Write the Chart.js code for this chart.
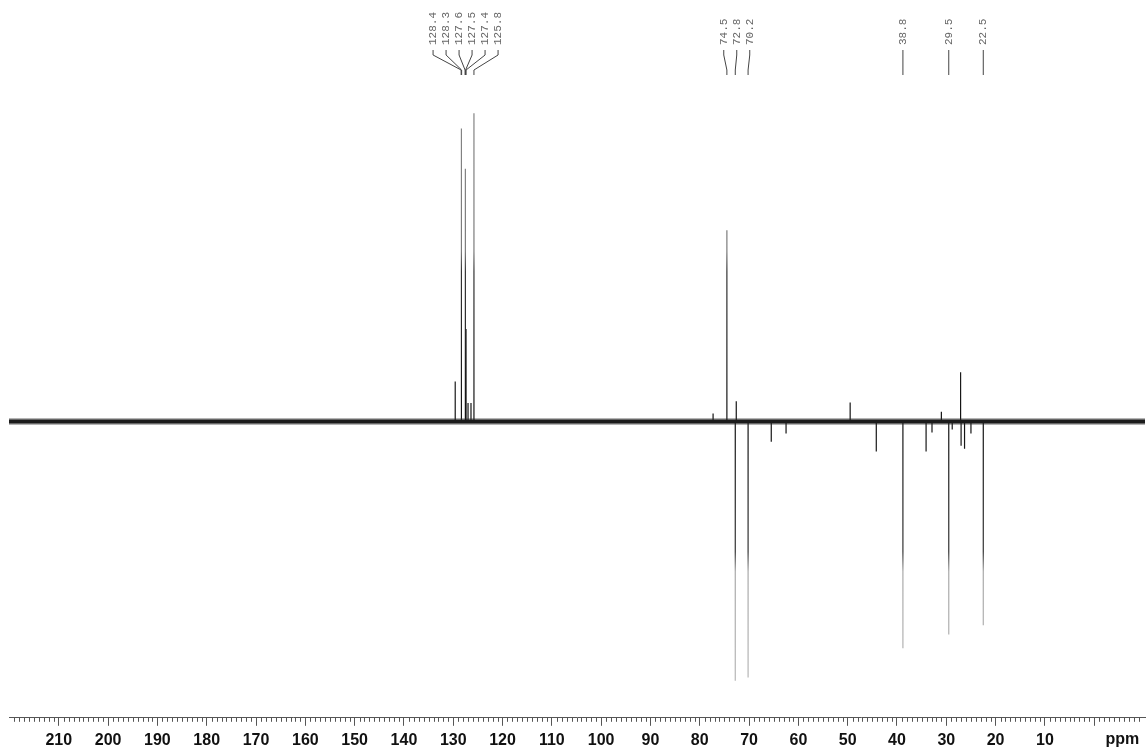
<!DOCTYPE html>
<html>
<head>
<meta charset="utf-8">
<title>DEPT-135</title>
<script src="https://cdn.jsdelivr.net/npm/chart.js@4.4.1/dist/chart.umd.min.js"></script>
<style>
  body { margin: 0; background: #fff; }
  #wrap { width: 1148px; height: 753px; position: relative; }
</style>
</head>
<body>
<div id="wrap"><canvas id="spectrum"></canvas></div>
<script>
// peak positions (ppm) and heights (positive = CH/CH3, negative = CH2)
const peakPpm    = [129.6, 128.4, 128.3, 127.6, 127.5, 127.4, 127.0, 126.4, 125.8,
                    77.3, 74.5, 72.8, 72.6, 70.2, 65.5, 62.5, 49.5, 44.2,
                    38.8, 34.1, 32.9, 31.0, 29.5, 28.8, 27.1, 27.0, 26.3, 25.0, 22.5];
const peakHeight = [13, 95, 60, 82, 55, 30, 6, 6, 100,
                    2.6, 62, -84, 6.6, -83, -6.5, -3.9, 6.2, -9.7,
                    -73.5, -9.7, -3.5, 3.2, -69, -2.6, 16, -7.8, -8.8, -3.9, -66];

// picked peak labels, one array per group
const aromaticLabels = [128.4, 128.3, 127.6, 127.5, 127.4, 125.8];
const oxyLabels = [74.5, 72.8, 70.2];
const alkylLabels = [38.8, 29.5, 22.5];

// axis tick labels
const tickValues = [210, 200, 190, 180, 170, 160, 150, 140, 130, 120, 110, 100, 90, 80, 70, 60, 50, 40, 30, 20, 10, 0];

// ppm range shown
const ppmMax = 220.1;
const ppmMin = -10.3;

// build the stick spectrum (each peak goes up from the baseline and back)
var spectrum = [];
for (var i = 0; i < peakPpm.length; i++)
{
    spectrum.push({x: peakPpm[i], y: 0});
    spectrum.push({x: peakPpm[i], y: peakHeight[i]});
    spectrum.push({x: peakPpm[i], y: 0});
}

const baseline = [{x: ppmMax, y: 0}, {x: ppmMin, y: 0}];

// spreads a group of labels so they do not overlap
function labelSlots(pix, gap)
{
    var tight = false;
    for (var i = 1; i < pix.length; i++)
    {
        if (Math.abs(pix[i] - pix[i-1]) < gap) tight = true;
    }
    if (!tight) return pix.slice();
    var mid = pix.reduce((a, b) => a + b, 0) / pix.length;
    return pix.map((p, i) => mid + (i - (pix.length - 1) / 2) * gap);
}

// peaks get lighter further from the baseline, like the plotted trace
function peakColor(context)
{
    const chart = context.chart;
    const area = chart.chartArea;
    if (!area) return '#444';
    const base = chart.scales.y.getPixelForValue(0);
    const h = area.bottom - area.top;
    const f = (px) => Math.min(1, Math.max(0, (px - area.top) / h));
    const g = chart.ctx.createLinearGradient(0, area.top, 0, area.bottom);
    g.addColorStop(0, '#8c8c8c');
    g.addColorStop(f(base - 170), '#7a7a7a');
    g.addColorStop(f(base - 150), '#333');
    g.addColorStop(f(base), '#111');
    g.addColorStop(f(base + 130), '#333');
    g.addColorStop(f(base + 150), '#a8a8a8');
    g.addColorStop(1, '#bbb');
    return g;
}

const peakLabelPlugin = {
    id: 'peakLabels',
    afterDraw(chart) {
        const c = chart.ctx;
        const xs = chart.scales.x;
        const area = chart.chartArea;

        // minor ticks every 1 ppm
        c.save();
        c.strokeStyle = '#555';
        c.lineWidth = 1;
        c.beginPath();
        for (var v = Math.ceil(ppmMin); v <= Math.floor(ppmMax); v++)
        {
            if (v % 10 === 0) continue;
            var px = Math.round(xs.getPixelForValue(v)) + 0.5;
            c.moveTo(px, area.bottom);
            c.lineTo(px, area.bottom + 4);
        }
        c.stroke();

        // unit label
        c.fillStyle = '#111';
        c.font = 'bold 16px "Liberation Sans", Arial, sans-serif';
        c.textAlign = 'center';
        c.textBaseline = 'middle';
        c.fillText('ppm', xs.getPixelForValue(-5.7), 740);

        // peak labels with their connector legs
        [aromaticLabels, oxyLabels, alkylLabels].forEach(function(group) {
            var pix = group.map(p => xs.getPixelForValue(p));
            var slots = labelSlots(pix, 13);
            c.strokeStyle = '#444';
            c.beginPath();
            for (var i = 0; i < group.length; i++)
            {
                c.moveTo(slots[i], 50);
                c.lineTo(slots[i], 55);
                c.lineTo(pix[i], 70);
                c.lineTo(pix[i], 75);
            }
            c.stroke();
            c.fillStyle = '#666';
            c.font = '11px "Liberation Mono", "DejaVu Sans Mono", monospace';
            c.textAlign = 'left';
            c.textBaseline = 'middle';
            for (var i = 0; i < group.length; i++)
            {
                c.save();
                c.translate(slots[i], 45);
                c.rotate(-Math.PI / 2);
                c.fillText(group[i].toFixed(1), 0, 0);
                c.restore();
            }
        });
        c.restore();
    }
};

// creates chart (Chart.js)
const ctx = document.getElementById("spectrum");

const nmrChart = new Chart(ctx, {
    type: 'line',
    data: {
        datasets: [
            {data: baseline, borderColor: 'rgba(40,40,40,0.35)', borderWidth: 7, pointRadius: 0},
            {data: baseline, borderColor: '#151515', borderWidth: 4, pointRadius: 0},
            {data: spectrum, borderColor: peakColor, borderWidth: 1.2, pointRadius: 0, tension: 0}
        ]
    },
    options: {
        responsive: true,
        maintainAspectRatio: false,
        animation: false,
        layout: {padding: {left: 9, right: 3, top: 0, bottom: -2}},
        plugins: {legend: {display: false}, tooltip: {enabled: false}},
        scales: {
            x: {
                type: 'linear',
                reverse: true,
                min: ppmMin,
                max: ppmMax,
                afterBuildTicks: (scale) => { scale.ticks = tickValues.map(v => ({value: v})); },
                ticks: {
                    autoSkip: false,
                    maxRotation: 0,
                    padding: 5,
                    color: '#111',
                    font: {family: '"Liberation Sans", Arial, sans-serif', size: 16, weight: 'bold'},
                    callback: (v) => (v === 0 ? '' : String(v))
                },
                grid: {drawOnChartArea: false, drawTicks: true, tickLength: 8, tickColor: '#555'},
                border: {display: true, color: '#555', width: 1}
            },
            y: {display: false, min: -96.04, max: 136.69}
        }
    },
    plugins: [peakLabelPlugin]
});
</script>
</body>
</html>
